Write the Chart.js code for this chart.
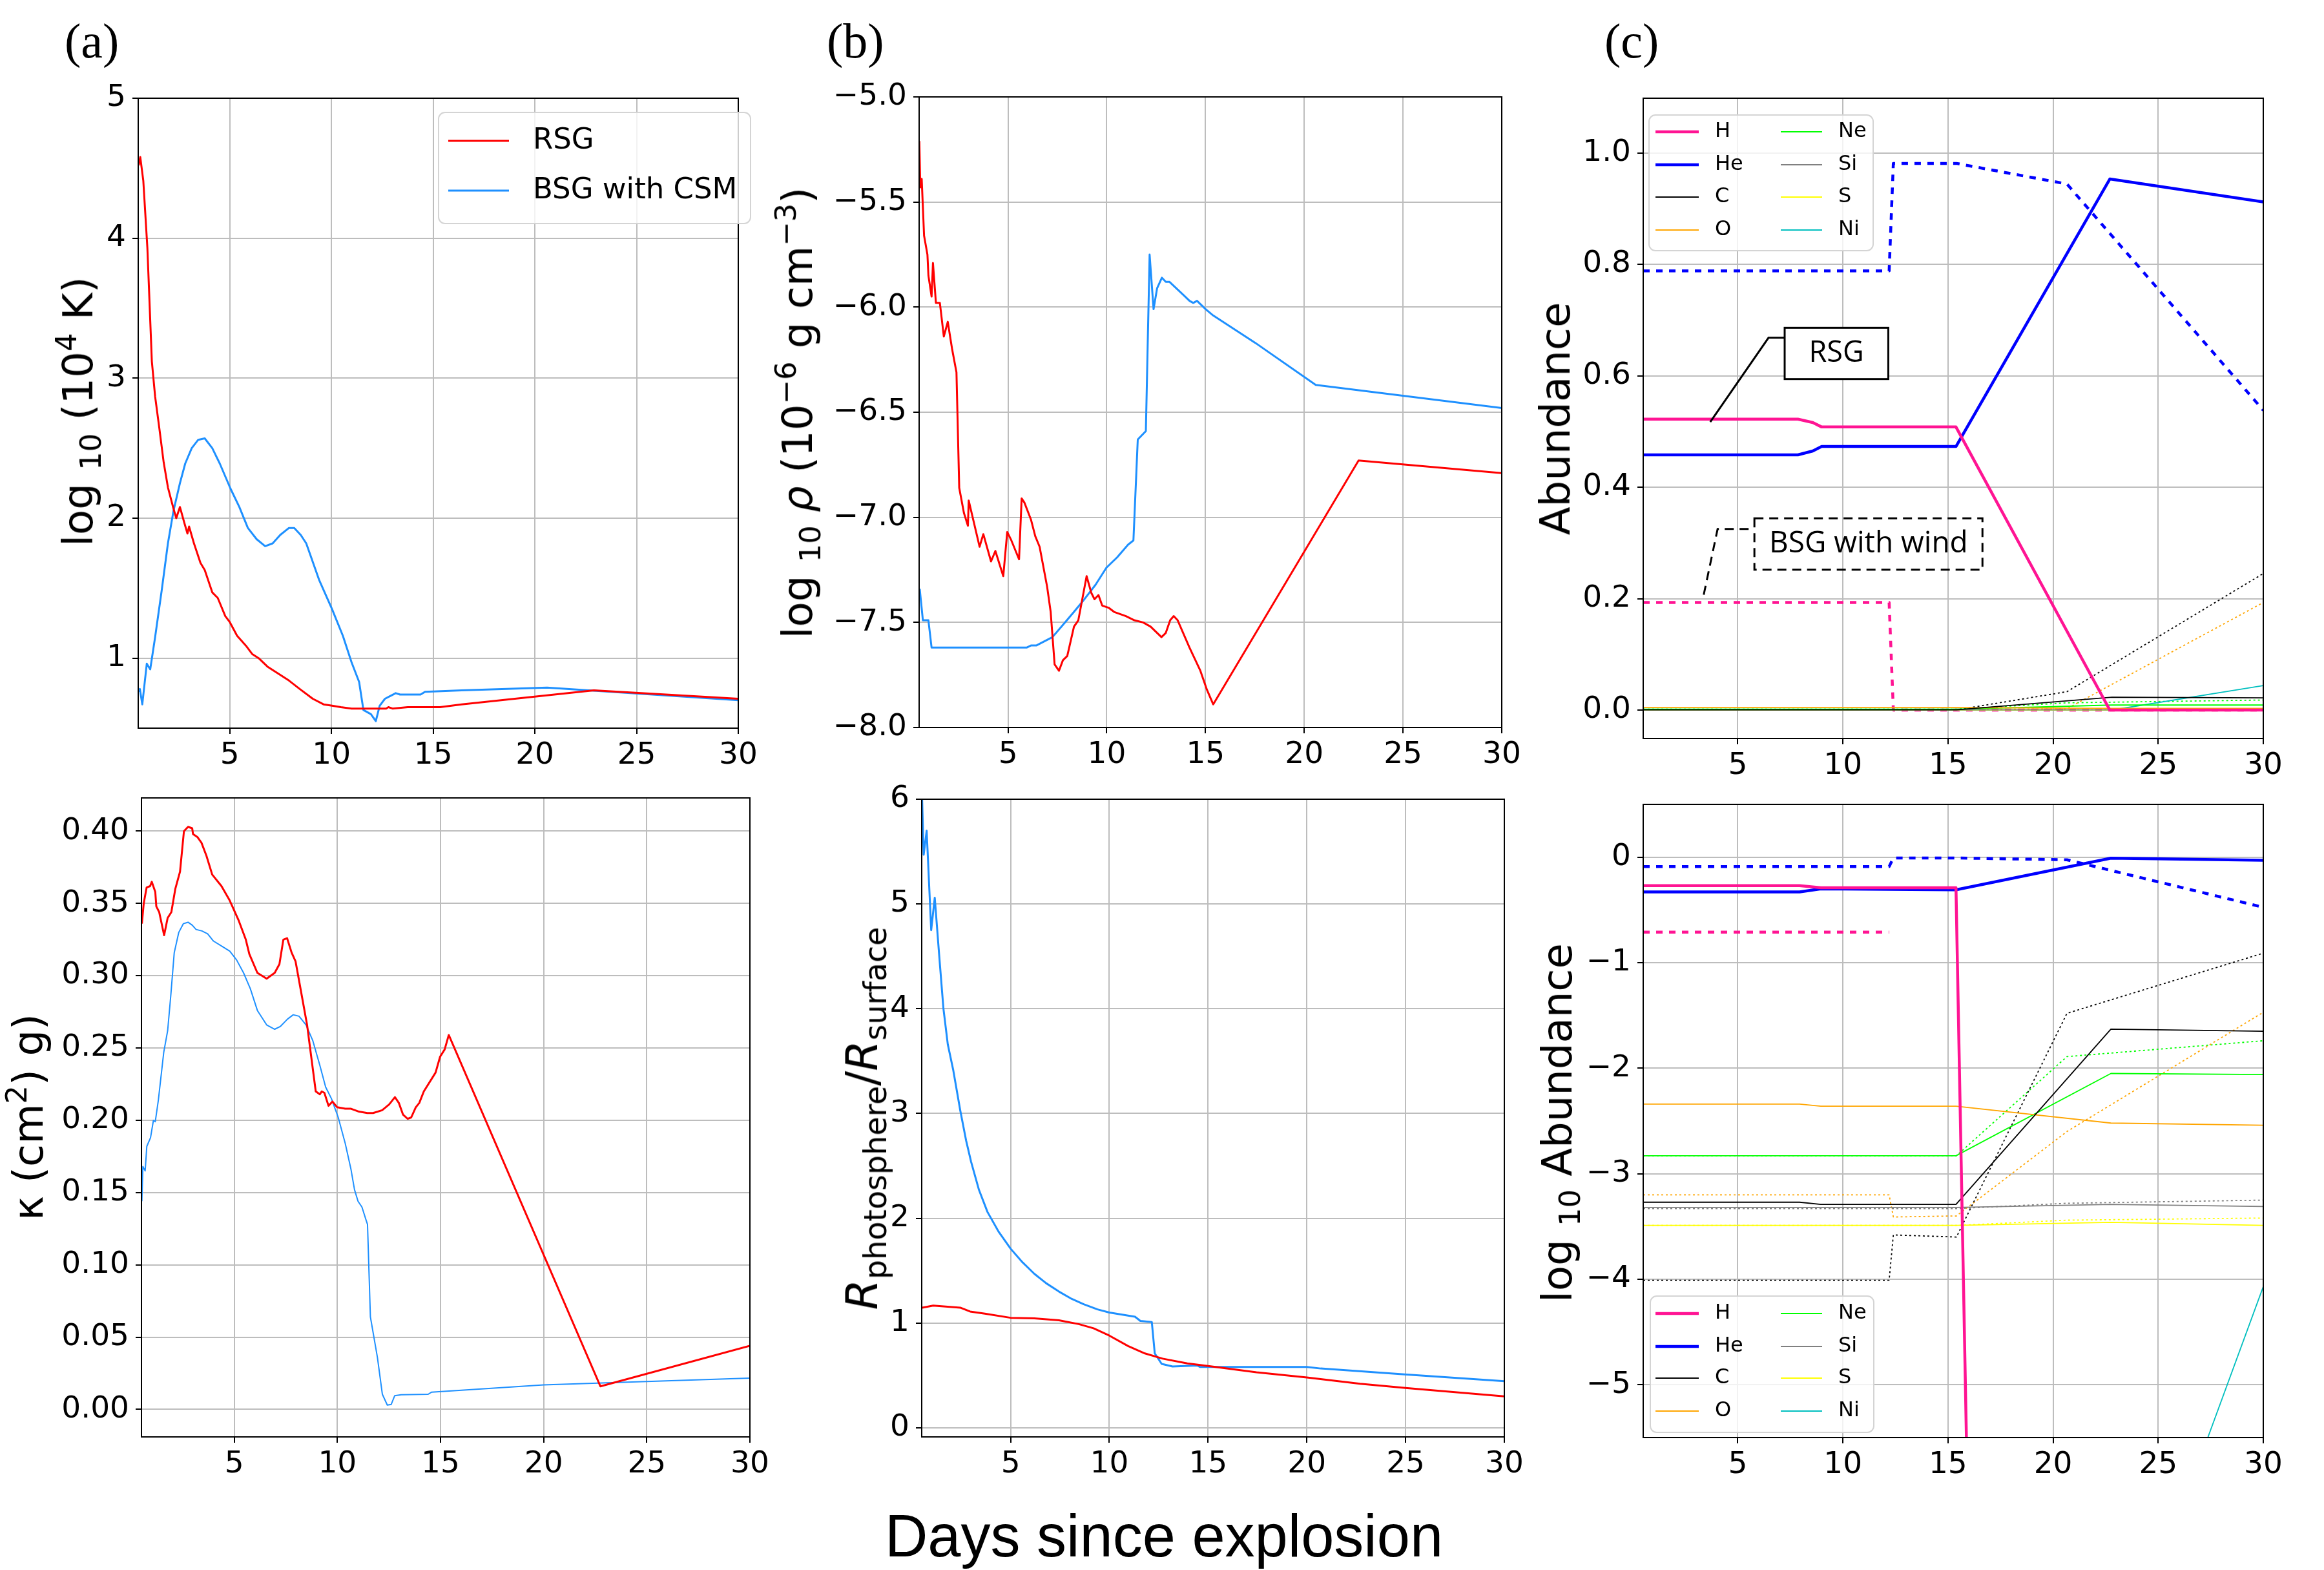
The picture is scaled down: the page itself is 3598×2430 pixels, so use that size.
<!DOCTYPE html>
<html lang="en">
<head>
<meta charset="UTF-8">
<title>RSG vs BSG: photosphere properties</title>
<script src="https://cdn.jsdelivr.net/npm/chart.js"></script>
<style>
    body { margin: 0; background: #fff; }
    #page { position: relative; width: 3598px; height: 2430px; overflow: hidden; background: #fff; }
    canvas { position: absolute; }
    .tag { position: absolute; font-family: 'Liberation Serif', serif; font-size: 76px; line-height: 76px; color: #000; }
    .ylab {
        position: absolute; font-family: 'DejaVu Sans', sans-serif; font-size: 64px; line-height: 64px;
        white-space: nowrap; color: #000; transform: translate(-50%, -50%) rotate(-90deg);
    }
    .ylab sub, .ylab sup { font-size: 0.7em; line-height: 0; }
    .ylab sub { vertical-align: -0.3em; }
    .ylab sup { vertical-align: 0.55em; }
    .xlab {
        position: absolute; font-family: 'Liberation Sans', sans-serif; font-size: 92px; line-height: 92px;
        white-space: nowrap; color: #000; transform: translateX(-50%);
    }
</style>
</head>
<body>
<div id="page">
    <div class="tag" style="left:100px; top:25px;">(a)</div>
    <div class="tag" style="left:1280px; top:25px;">(b)</div>
    <div class="tag" style="left:2484px; top:25px;">(c)</div>

    <canvas id="aTop"></canvas>
    <canvas id="aBot"></canvas>
    <canvas id="bTop"></canvas>
    <canvas id="bBot"></canvas>
    <canvas id="cTop"></canvas>
    <canvas id="cBot"></canvas>

    <!-- axis titles (need sub/superscripts) -->
    <div class="ylab" style="left:121px; top:637px;">log <sub>10</sub> (10<sup>4</sup> K)</div>
    <div class="ylab" style="left:44px; top:1729px;">κ (cm<sup>2</sup>) g)</div>
    <div class="ylab" style="left:1235px; top:639px;">log <sub>10</sub> <i>ρ</i> (10<sup>−6</sup> g cm<sup>−3</sup>)</div>
    <div class="ylab" style="left:1335px; top:1731px; font-size:68px;"><i>R</i><sub>photosphere</sub>/<i>R</i><sub>surface</sub></div>
    <div class="ylab" style="left:2408px; top:648px;">Abundance</div>
    <div class="ylab" style="left:2411px; top:1738px;">log <sub>10</sub> Abundance</div>
    <div class="xlab" style="left:1802px; top:2331px;">Days since explosion</div>
</div>

<script>
    // ---- data ----
    const dayTicks = [5, 10, 15, 20, 25, 30];

    // (a) top: log10 T
    const aTopDayRsg = [0.52, 0.6, 0.75, 0.95, 1.17, 1.33, 1.54, 1.75, 1.96, 2.23, 2.37, 2.55, 2.76, 2.92, 3.0, 3.24, 3.56, 3.77, 4.14, 4.41, 4.78, 4.99, 5.36, 5.79, 6.1, 6.42, 6.85, 7.38, 7.91, 8.44, 9.08, 9.61, 10.03, 10.46, 10.99, 12.69, 12.8, 13.0, 13.75, 15.34, 16.4, 22.9, 30];
    const aTopTempRsg = [4.52, 4.58, 4.41, 3.93, 3.12, 2.87, 2.64, 2.40, 2.22, 2.07, 2.0, 2.08, 1.97, 1.89, 1.94, 1.82, 1.68, 1.63, 1.47, 1.43, 1.30, 1.26, 1.16, 1.09, 1.03, 1.0, 0.94, 0.89, 0.84, 0.78, 0.71, 0.67, 0.66, 0.65, 0.64, 0.64, 0.65, 0.64, 0.65, 0.65, 0.67, 0.77, 0.71];
    const aTopDayBsg = [0.52, 0.58, 0.7, 0.92, 1.09, 1.33, 1.65, 1.96, 2.23, 2.55, 2.81, 3.13, 3.45, 3.77, 4.14, 4.51, 5.04, 5.47, 5.89, 6.32, 6.74, 7.11, 7.48, 7.91, 8.17, 8.49, 8.76, 9.39, 10.03, 10.56, 10.99, 11.36, 11.57, 11.94, 12.18, 12.37, 12.63, 12.9, 13.16, 13.37, 14.38, 14.6, 16.4, 20.6, 30];
    const aTopTempBsg = [0.76, 0.78, 0.67, 0.96, 0.92, 1.15, 1.48, 1.82, 2.05, 2.25, 2.39, 2.50, 2.56, 2.57, 2.50, 2.39, 2.21, 2.08, 1.93, 1.85, 1.80, 1.82, 1.88, 1.93, 1.93, 1.88, 1.82, 1.56, 1.35, 1.16, 0.97, 0.83, 0.63, 0.60, 0.55, 0.66, 0.71, 0.73, 0.75, 0.74, 0.74, 0.76, 0.77, 0.79, 0.70];

    // (a) bottom: opacity
    const aBotDayRsg = [0.52, 0.61, 0.75, 0.92, 1.0, 1.17, 1.22, 1.36, 1.6, 1.77, 1.95, 2.14, 2.37, 2.56, 2.76, 2.96, 3.0, 3.21, 3.41, 3.65, 3.93, 4.38, 4.78, 5.22, 5.56, 5.73, 6.12, 6.57, 6.96, 7.19, 7.38, 7.56, 7.78, 7.97, 8.2, 8.53, 8.95, 9.15, 9.24, 9.37, 9.57, 9.76, 9.99, 10.38, 10.66, 11.05, 11.45, 11.73, 12.17, 12.51, 12.79, 12.98, 13.18, 13.41, 13.58, 13.8, 13.97, 14.19, 14.76, 14.98, 15.2, 15.4, 22.75, 30];
    const aBotKapRsg = [0.336, 0.35, 0.361, 0.362, 0.365, 0.358, 0.348, 0.344, 0.328, 0.34, 0.344, 0.36, 0.372, 0.40, 0.403, 0.402, 0.398, 0.396, 0.392, 0.383, 0.37, 0.362, 0.352, 0.338, 0.325, 0.315, 0.302, 0.298, 0.302, 0.308, 0.325, 0.326, 0.316, 0.31, 0.292, 0.266, 0.22, 0.218, 0.22, 0.219, 0.21, 0.213, 0.209, 0.208, 0.208, 0.206, 0.205, 0.205, 0.207, 0.211, 0.216, 0.212, 0.204, 0.201, 0.202, 0.209, 0.212, 0.22, 0.233, 0.244, 0.249, 0.259, 0.016, 0.044];
    const aBotDayBsg = [0.52, 0.57, 0.68, 0.76, 0.94, 1.08, 1.17, 1.32, 1.58, 1.77, 1.92, 2.09, 2.31, 2.53, 2.76, 2.96, 3.15, 3.43, 3.71, 3.99, 4.44, 4.78, 5.11, 5.45, 5.78, 6.12, 6.57, 6.96, 7.24, 7.58, 7.86, 8.14, 8.48, 8.81, 9.15, 9.43, 9.71, 10.04, 10.38, 10.66, 10.83, 11.0, 11.19, 11.39, 11.46, 11.6, 11.94, 12.18, 12.42, 12.61, 12.78, 13.09, 14.4, 14.57, 20.0, 30];
    const aBotKapBsg = [0.144, 0.168, 0.165, 0.182, 0.188, 0.20, 0.199, 0.214, 0.247, 0.262, 0.286, 0.316, 0.33, 0.336, 0.337, 0.335, 0.332, 0.331, 0.329, 0.324, 0.32, 0.317, 0.311, 0.302, 0.291, 0.276, 0.266, 0.263, 0.265, 0.27, 0.273, 0.272, 0.266, 0.255, 0.238, 0.223, 0.215, 0.202, 0.184, 0.166, 0.152, 0.144, 0.14, 0.131, 0.128, 0.064, 0.036, 0.0105, 0.003, 0.0035, 0.0095, 0.0102, 0.0105, 0.012, 0.017, 0.0217];

    // (b) top: log10 density
    const bTopDayRsg = [0.51, 0.56, 0.63, 0.75, 0.92, 0.97, 1.13, 1.2, 1.35, 1.55, 1.75, 1.95, 2.17, 2.39, 2.53, 2.77, 2.97, 3.01, 3.26, 3.56, 3.75, 4.14, 4.36, 4.76, 4.96, 5.17, 5.56, 5.69, 5.83, 6.16, 6.38, 6.6, 6.98, 7.16, 7.36, 7.58, 7.78, 8.0, 8.34, 8.56, 8.98, 9.22, 9.38, 9.58, 9.77, 10.09, 10.37, 10.97, 11.4, 11.84, 12.22, 12.77, 12.99, 13.21, 13.39, 13.59, 14.19, 14.74, 15.07, 15.39, 22.75, 30];
    const bTopRhoRsg = [-5.21, -5.43, -5.39, -5.66, -5.75, -5.85, -5.95, -5.79, -5.98, -5.98, -6.14, -6.07, -6.20, -6.31, -6.86, -6.98, -7.04, -6.92, -7.02, -7.14, -7.08, -7.21, -7.16, -7.28, -7.07, -7.11, -7.20, -6.91, -6.93, -7.01, -7.09, -7.14, -7.33, -7.45, -7.70, -7.73, -7.68, -7.66, -7.52, -7.49, -7.28, -7.36, -7.39, -7.37, -7.42, -7.43, -7.45, -7.47, -7.49, -7.50, -7.52, -7.57, -7.55, -7.49, -7.47, -7.49, -7.62, -7.73, -7.82, -7.89, -6.73, -6.79];
    const bTopDayBsg = [0.53, 0.69, 0.97, 1.13, 5.94, 6.16, 6.43, 7.25, 7.8, 8.34, 8.78, 9.44, 9.98, 10.53, 11.08, 11.35, 11.57, 11.98, 12.17, 12.37, 12.55, 12.79, 12.99, 13.18, 13.97, 14.19, 14.38, 14.57, 15.01, 15.39, 17.52, 20.58, 30];
    const bTopRhoBsg = [-7.34, -7.49, -7.49, -7.62, -7.62, -7.61, -7.61, -7.57, -7.51, -7.45, -7.40, -7.32, -7.24, -7.19, -7.13, -7.11, -6.63, -6.59, -5.75, -6.01, -5.91, -5.86, -5.88, -5.88, -5.95, -5.97, -5.98, -5.97, -6.01, -6.04, -6.17, -6.37, -6.48];

    // (b) bottom: photosphere / surface radius
    const bBotDayRsg = [0.53, 1.08, 2.45, 2.95, 3.7, 5.0, 6.2, 7.45, 8.45, 9.2, 10.0, 10.95, 11.8, 12.7, 13.95, 15.0, 17.45, 20.0, 22.7, 25.0, 30];
    const bBotRadRsg = [1.147, 1.166, 1.147, 1.11, 1.09, 1.05, 1.045, 1.026, 0.99, 0.95, 0.88, 0.78, 0.71, 0.66, 0.614, 0.59, 0.53, 0.48, 0.42, 0.38, 0.30];
    const bBotDayBsg = [0.52, 0.6, 0.75, 0.98, 1.16, 1.38, 1.6, 1.82, 2.09, 2.45, 2.75, 3.0, 3.4, 3.83, 4.4, 5.0, 5.6, 6.2, 6.8, 7.45, 8.1, 8.7, 9.4, 10.0, 11.3, 11.57, 12.15, 12.3, 12.65, 13.2, 14.45, 14.6, 20.0, 20.7, 24.95, 30];
    const bBotRadBsg = [6.0, 5.47, 5.70, 4.75, 5.06, 4.52, 4.0, 3.66, 3.42, 3.03, 2.74, 2.54, 2.27, 2.06, 1.87, 1.71, 1.58, 1.47, 1.38, 1.30, 1.23, 1.18, 1.13, 1.10, 1.06, 1.02, 1.01, 0.71, 0.61, 0.585, 0.595, 0.58, 0.58, 0.566, 0.51, 0.445];

    // (c) top: abundances (solid = RSG, dotted = BSG with wind)
    const elements = ['H', 'He', 'C', 'O', 'Ne', 'Si', 'S', 'Ni'];
    const elemColors = ['#ff1493', '#0000ff', '#000000', '#ffa500', '#00ff00', '#808080', '#ffff00', '#00bfbf'];
    const cTopDayRsgHHe = [0.5, 7.86, 8.57, 8.99, 15.38, 22.7, 30];
    const cTopRsgH  = [0.522, 0.522, 0.516, 0.508, 0.508, 0.0, 0.0];
    const cTopRsgHe = [0.458, 0.458, 0.465, 0.473, 0.473, 0.953, 0.912];
    const cTopDayRsg = [0.5, 15.4, 22.8, 30];
    const cTopRsgC  = [0.0005, 0.0005, 0.023, 0.022];
    const cTopRsgO  = [0.0046, 0.0044, 0.003, 0.003];
    const cTopRsgNe = [0.0015, 0.0015, 0.009, 0.009];
    const cTopRsgSi = [0.0005, 0.0005, 0.0005, 0.0005];
    const cTopRsgS  = [0.0003, 0.0003, 0.0003, 0.0003];
    const cTopRsgNi = [0.0, 0.0, 0.0, 0.044];
    const cTopDayBsg = [0.5, 12.2, 12.4, 15.4, 20.66, 30];
    const cTopBsgH  = [0.193, 0.193, 0.0, 0.0, 0.0, 0.0];
    const cTopBsgHe = [0.788, 0.788, 0.981, 0.981, 0.944, 0.538];
    const cTopBsgC  = [0.0001, 0.0001, 0.0003, 0.0003, 0.033, 0.245];
    const cTopBsgO  = [0.0006, 0.0006, 0.0004, 0.0004, 0.0025, 0.193];
    const cTopBsgNe = [0.0015, 0.0015, 0.0015, 0.0015, 0.013, 0.018];
    const cTopBsgSi = [0.0005, 0.0005, 0.0005, 0.0005, 0.0005, 0.0006];
    const cTopBsgS  = [0.0003, 0.0003, 0.0003, 0.0003, 0.0004, 0.0004];
    const cTopBsgNi = [0, 0, 0, 0, 0, 0];

    // (c) bottom: log10 abundances
    const cBotDayRsgH = [0.5, 7.94, 8.95, 15.38, 16.0];
    const cBotRsgH  = [-0.27, -0.27, -0.29, -0.29, -6.8];
    const cBotDayRsg = [0.5, 7.94, 8.95, 15.38, 22.75, 30];
    const cBotRsgHe = [-0.33, -0.33, -0.30, -0.31, -0.01, -0.03];
    const cBotRsgC  = [-3.27, -3.27, -3.29, -3.29, -1.63, -1.65];
    const cBotRsgO  = [-2.34, -2.34, -2.36, -2.36, -2.52, -2.54];
    const cBotRsgNe = [-2.83, -2.83, -2.83, -2.83, -2.05, -2.06];
    const cBotRsgSi = [-3.32, -3.32, -3.32, -3.32, -3.29, -3.31];
    const cBotRsgS  = [-3.49, -3.49, -3.49, -3.49, -3.46, -3.49];
    const cBotDayRsgNi = [22.75, 30];
    const cBotRsgNi = [-8.0, -4.07];
    const cBotDayBsgH = [0.5, 12.2];
    const cBotBsgH  = [-0.71, -0.71];
    const cBotDayBsg = [0.5, 12.2, 12.4, 15.4, 20.66, 30];
    const cBotBsgHe = [-0.09, -0.09, -0.008, -0.008, -0.025, -0.475];
    const cBotBsgC  = [-4.01, -4.01, -3.58, -3.60, -1.48, -0.91];
    const cBotBsgO  = [-3.2, -3.2, -3.41, -3.40, -2.6, -1.47];
    const cBotBsgNe = [-2.83, -2.83, -2.83, -2.83, -1.89, -1.74];
    const cBotBsgSi = [-3.33, -3.33, -3.33, -3.33, -3.28, -3.25];
    const cBotBsgS  = [-3.49, -3.49, -3.49, -3.49, -3.44, -3.42];

    // ---- drawing ----
    const RED = '#ff0000', CSM = '#1e90ff';
    const AX_W = 200, AX_H = 80, PAD_T = 40, PAD_R = 60;
    const THICK = 4.5, THIN = 1.8;
    const BIG_DOT = [10, 10], SMALL_DOT = [3, 4];
    const minus = v => (v < 0 ? '\u2212' : '') + Math.abs(v);

    function line(xs, ys, color, width, dash) {
        return {
            data: xs.map((x, i) => ({ x: x, y: ys[i] })),
            borderColor: color, borderWidth: width, borderDash: dash || [],
            borderJoinStyle: 'round', pointRadius: 0, fill: false, tension: 0
        };
    }

    function roundRect(ctx, x, y, w, h, r) {
        ctx.beginPath();
        ctx.moveTo(x + r, y);
        ctx.arcTo(x + w, y, x + w, y + h, r);
        ctx.arcTo(x + w, y + h, x, y + h, r);
        ctx.arcTo(x, y + h, x, y, r);
        ctx.arcTo(x, y, x + w, y, r);
        ctx.closePath();
    }

    const framePlugin = {
        id: 'frame',
        afterDatasetsDraw(chart) {
            const { ctx, chartArea: a } = chart;
            ctx.save();
            ctx.strokeStyle = '#000';
            ctx.lineWidth = 2;
            ctx.strokeRect(a.left, a.top, a.right - a.left, a.bottom - a.top);
            ctx.restore();
        }
    };

    // legend drawn inside the axes, as matplotlib does
    function legendPlugin(box, font, items) {
        return {
            id: 'boxLegend',
            afterDraw(chart) {
                const { ctx, chartArea: a } = chart;
                ctx.save();
                roundRect(ctx, a.left + box.x, a.top + box.y, box.w, box.h, 10);
                ctx.fillStyle = 'rgba(255,255,255,0.8)';
                ctx.fill();
                ctx.strokeStyle = '#d4d4d4';
                ctx.lineWidth = 2;
                ctx.stroke();
                ctx.font = font;
                ctx.textBaseline = 'middle';
                items.forEach(it => {
                    ctx.beginPath();
                    ctx.moveTo(a.left + it.x0, a.top + it.y);
                    ctx.lineTo(a.left + it.x0 + it.len, a.top + it.y);
                    ctx.strokeStyle = it.color;
                    ctx.lineWidth = it.width;
                    ctx.stroke();
                    ctx.fillStyle = '#000';
                    ctx.fillText(it.label, a.left + it.tx, a.top + it.y);
                });
                ctx.restore();
            }
        };
    }

    function elementLegend(box, rowY) {
        return legendPlugin(box, '32px "DejaVu Sans"', elements.map((el, i) => {
            const col = i < 4 ? 0 : 1;
            return {
                label: el, color: elemColors[i], width: i < 2 ? THICK : THIN,
                x0: col ? 213 : 19, len: col ? 64 : 67, tx: col ? 302 : 111, y: rowY[i % 4]
            };
        }));
    }

    function makeChart(id, plot, yr, yTicks, yFmt, datasets, extra) {
        const cv = document.getElementById(id);
        const w = plot.r - plot.l + AX_W + PAD_R;
        const h = plot.b - plot.t + PAD_T + AX_H;
        cv.width = w; cv.height = h;
        cv.style.width = w + 'px'; cv.style.height = h + 'px';
        cv.style.left = (plot.l - AX_W) + 'px';
        cv.style.top = (plot.t - PAD_T) + 'px';
        const tickFont = { family: 'DejaVu Sans', size: 47 };
        const grid = () => ({ color: '#bdbdbd', lineWidth: 2, tickColor: '#000', tickLength: 9, tickWidth: 2 });
        return new Chart(cv, {
            type: 'line',
            data: { datasets: datasets },
            options: {
                responsive: false, animation: false, events: [],
                layout: { padding: { top: PAD_T, right: PAD_R, left: 0, bottom: 0 } },
                plugins: { legend: { display: false }, tooltip: { enabled: false } },
                scales: {
                    x: {
                        type: 'linear', min: 0.5, max: 30,
                        border: { display: false }, grid: grid(),
                        ticks: { font: tickFont, color: '#000', padding: 6, autoSkip: false, maxRotation: 0, callback: v => String(v) },
                        afterBuildTicks: s => { s.ticks = dayTicks.map(v => ({ value: v })); },
                        afterFit: s => { s.height = AX_H; }
                    },
                    y: {
                        type: 'linear', min: yr[0], max: yr[1],
                        border: { display: false }, grid: grid(),
                        ticks: { font: tickFont, color: '#000', padding: 10, autoSkip: false, callback: yFmt },
                        afterBuildTicks: s => { s.ticks = yTicks.map(v => ({ value: v })); },
                        afterFit: s => { s.width = AX_W; }
                    }
                }
            },
            plugins: [framePlugin].concat(extra || [])
        });
    }

    // (a) top
    makeChart('aTop', { l: 214, t: 152, r: 1143, b: 1127 }, [0.5, 5], [1, 2, 3, 4, 5], v => String(v), [
        line(aTopDayRsg, aTopTempRsg, RED, 3),
        line(aTopDayBsg, aTopTempBsg, CSM, 3)
    ], [legendPlugin({ x: 465, y: 22, w: 483, h: 172 }, '45px "DejaVu Sans"', [
        { label: 'RSG', color: RED, width: 3, x0: 480, len: 94, tx: 611, y: 66 },
        { label: 'BSG with CSM', color: CSM, width: 3, x0: 480, len: 94, tx: 611, y: 143 }
    ])]);

    // (a) bottom
    makeChart('aBot', { l: 219, t: 1235, r: 1161, b: 2224 }, [-0.019, 0.423],
        [0, 0.05, 0.10, 0.15, 0.20, 0.25, 0.30, 0.35, 0.40], v => v.toFixed(2), [
        line(aBotDayRsg, aBotKapRsg, RED, 3),
        line(aBotDayBsg, aBotKapBsg, CSM, 2)
    ]);

    // (b) top
    makeChart('bTop', { l: 1423, t: 150, r: 2325, b: 1126 }, [-8, -5],
        [-8, -7.5, -7, -6.5, -6, -5.5, -5], v => (v < 0 ? '\u2212' : '') + Math.abs(v).toFixed(1), [
        line(bTopDayRsg, bTopRhoRsg, RED, 3),
        line(bTopDayBsg, bTopRhoBsg, CSM, 3)
    ]);

    // (b) bottom
    makeChart('bBot', { l: 1427, t: 1237, r: 2329, b: 2224 }, [-0.087, 6],
        [0, 1, 2, 3, 4, 5, 6], v => String(v), [
        line(bBotDayRsg, bBotRadRsg, RED, 3),
        line(bBotDayBsg, bBotRadBsg, CSM, 3)
    ]);

    // (c) top annotations
    const cTopNotes = {
        id: 'notes',
        afterDatasetsDraw(chart) {
            const { ctx, scales: { x, y } } = chart;
            const px = v => x.getPixelForValue(v), py = v => y.getPixelForValue(v);
            ctx.save();
            ctx.strokeStyle = '#000';
            ctx.lineWidth = 3;
            // RSG callout
            ctx.beginPath();
            ctx.moveTo(px(3.69), py(0.517));
            ctx.lineTo(px(6.46), py(0.668));
            ctx.lineTo(px(7.23), py(0.668));
            ctx.stroke();
            ctx.fillStyle = '#fff';
            ctx.fillRect(px(7.23), py(0.686), px(12.16) - px(7.23), py(0.594) - py(0.686));
            ctx.strokeRect(px(7.23), py(0.686), px(12.16) - px(7.23), py(0.594) - py(0.686));
            ctx.fillStyle = '#000';
            ctx.font = '45px "Open Sans"';
            ctx.textAlign = 'center';
            ctx.textBaseline = 'middle';
            ctx.fillText('RSG', px(9.69), py(0.64));
            // BSG with wind callout (dashed)
            ctx.setLineDash([14, 9]);
            ctx.beginPath();
            ctx.moveTo(px(3.38), py(0.207));
            ctx.lineTo(px(4.04), py(0.325));
            ctx.lineTo(px(5.79), py(0.325));
            ctx.stroke();
            ctx.strokeRect(px(5.79), py(0.344), px(16.64) - px(5.79), py(0.252) - py(0.344));
            ctx.font = '46px "Open Sans"';
            ctx.fillText('BSG with wind', px(11.22), py(0.298));
            ctx.restore();
        }
    };

    // (c) top
    makeChart('cTop', { l: 2544, t: 152, r: 3504, b: 1143 }, [-0.051, 1.098],
        [0, 0.2, 0.4, 0.6, 0.8, 1.0], v => v.toFixed(1), [
        line(cTopDayRsgHHe, cTopRsgH, elemColors[0], THICK),
        line(cTopDayRsgHHe, cTopRsgHe, elemColors[1], THICK),
        line(cTopDayRsg, cTopRsgC, elemColors[2], THIN),
        line(cTopDayRsg, cTopRsgO, elemColors[3], THIN),
        line(cTopDayRsg, cTopRsgNe, elemColors[4], THIN),
        line(cTopDayRsg, cTopRsgSi, elemColors[5], THIN),
        line(cTopDayRsg, cTopRsgS, elemColors[6], THIN),
        line(cTopDayRsg, cTopRsgNi, elemColors[7], THIN),
        line(cTopDayBsg, cTopBsgH, elemColors[0], THICK, BIG_DOT),
        line(cTopDayBsg, cTopBsgHe, elemColors[1], THICK, BIG_DOT),
        line(cTopDayBsg, cTopBsgC, elemColors[2], THIN, SMALL_DOT),
        line(cTopDayBsg, cTopBsgO, elemColors[3], THIN, SMALL_DOT),
        line(cTopDayBsg, cTopBsgNe, elemColors[4], THIN, SMALL_DOT),
        line(cTopDayBsg, cTopBsgSi, elemColors[5], THIN, SMALL_DOT),
        line(cTopDayBsg, cTopBsgS, elemColors[6], THIN, SMALL_DOT),
        line(cTopDayBsg, cTopBsgNi, elemColors[7], THIN, SMALL_DOT)
    ], [cTopNotes, elementLegend({ x: 9, y: 26, w: 347, h: 210 }, [52, 103, 153, 204])]);

    // (c) bottom
    makeChart('cBot', { l: 2544, t: 1245, r: 3504, b: 2225 }, [-5.5, 0.5],
        [-5, -4, -3, -2, -1, 0], minus, [
        line(cBotDayRsgH, cBotRsgH, elemColors[0], THICK),
        line(cBotDayRsg, cBotRsgHe, elemColors[1], THICK),
        line(cBotDayRsg, cBotRsgC, elemColors[2], THIN),
        line(cBotDayRsg, cBotRsgO, elemColors[3], THIN),
        line(cBotDayRsg, cBotRsgNe, elemColors[4], THIN),
        line(cBotDayRsg, cBotRsgSi, elemColors[5], THIN),
        line(cBotDayRsg, cBotRsgS, elemColors[6], THIN),
        line(cBotDayRsgNi, cBotRsgNi, elemColors[7], THIN),
        line(cBotDayBsgH, cBotBsgH, elemColors[0], THICK, BIG_DOT),
        line(cBotDayBsg, cBotBsgHe, elemColors[1], THICK, BIG_DOT),
        line(cBotDayBsg, cBotBsgC, elemColors[2], THIN, SMALL_DOT),
        line(cBotDayBsg, cBotBsgO, elemColors[3], THIN, SMALL_DOT),
        line(cBotDayBsg, cBotBsgNe, elemColors[4], THIN, SMALL_DOT),
        line(cBotDayBsg, cBotBsgSi, elemColors[5], THIN, SMALL_DOT),
        line(cBotDayBsg, cBotBsgS, elemColors[6], THIN, SMALL_DOT)
    ], [elementLegend({ x: 11, y: 761, w: 346, h: 211 }, [788, 839, 888, 939])]);
</script>
</body>
</html>
